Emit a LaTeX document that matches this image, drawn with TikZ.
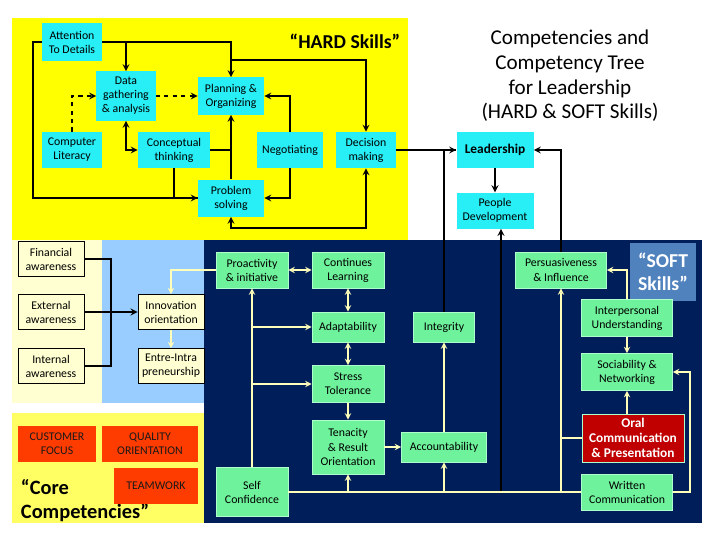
\documentclass[tikz,border=0pt]{standalone}
\usepackage{fontspec}
\setmainfont{Carlito}
\usepackage{xcolor}
\usetikzlibrary{arrows, positioning, calc}

\definecolor{hardbg}{RGB}{255,255,0}
\definecolor{corebg}{RGB}{255,255,100}
\definecolor{creambg}{RGB}{255,255,210}
\definecolor{bluebg}{RGB}{153,204,255}
\definecolor{navybg}{RGB}{0,30,90}
\definecolor{cyanbox}{RGB}{40,238,245}
\definecolor{greenbox}{RGB}{110,242,155}
\definecolor{greenedge}{RGB}{175,255,205}
\definecolor{orangebox}{RGB}{255,60,0}
\definecolor{redbox}{RGB}{192,0,0}
\definecolor{steelbox}{RGB}{80,130,190}
\definecolor{creamline}{RGB}{255,255,185}

\begin{document}
\begin{tikzpicture}[x=0.025cm, y=-0.025cm, font=\fontsize{8.4}{10}\selectfont]
    \tikzstyle{hardbox} = [rectangle, fill=cyanbox, align=center, inner sep=1pt, minimum width=1.5cm, minimum height=0.9cm]
    \tikzstyle{softbox} = [rectangle, fill=greenbox, draw=greenedge, line width=0.6pt, align=center, inner sep=1pt, minimum width=1.8cm, minimum height=0.9cm]
    \tikzstyle{awarebox} = [rectangle, fill=creambg, draw=black, line width=0.6pt, align=center, inner sep=1pt, minimum width=1.65cm, minimum height=0.875cm]
    \tikzstyle{corebox} = [rectangle, fill=orangebox, text=black!90, align=center, inner sep=1pt, minimum height=0.9cm]
    \tikzstyle{line} = [line width=1.2pt]
    \tikzstyle{arrow} = [line width=1.2pt,->,>=stealth]
    \tikzstyle{dblarrow} = [line width=1.2pt,<->,>=stealth]
    \tikzstyle{cline} = [line width=1pt, draw=creamline]
    \tikzstyle{carrow} = [line width=1pt, draw=creamline,->,>=stealth]
    \tikzstyle{cdblarrow} = [line width=1pt, draw=creamline,<->,>=stealth]

    \useasboundingbox (0,0) rectangle (720,540);
    \fill[white] (0,0) rectangle (720,540);

    % background panels
    \fill[hardbg] (12,18) rectangle (408,240);
    \fill[creambg] (12,240) rectangle (102,403);
    \fill[bluebg] (102,240) rectangle (204,403);
    \fill[corebg] (12,413) rectangle (204,523);
    \fill[navybg] (204,240) rectangle (702,523);

    % titles
    \node (title) [align=center, font=\fontsize{15}{17.5}\selectfont] at (570,76) {Competencies and\\Competency Tree\\for Leadership\\(HARD \& SOFT Skills)};
    \node (hardlbl) [font=\fontsize{14}{15}\selectfont\bfseries] at (345,41) {``HARD Skills''};
    \node (corelbl) [anchor=west, align=left, font=\fontsize{14.5}{17}\selectfont\bfseries] at (16,501) {``Core\\Competencies''};
    \node (softlbl) [rectangle, fill=steelbox, text=white, align=center, minimum width=1.65cm, minimum height=1.425cm, font=\fontsize{14}{16.5}\selectfont\bfseries] at (663,272) {``SOFT\\Skills''};

    % HARD skills
    \node (attn) [hardbox, minimum height=0.925cm] at (72,42) {Attention\\To Details};
    \node (data) [hardbox, minimum width=1.475cm, minimum height=1.225cm] at (126,96) {Data\\gathering\\\& analysis};
    \node (plan) [hardbox, minimum width=1.65cm, minimum height=0.925cm] at (231,96) {Planning \&\\Organizing};
    \node (comp) [hardbox] at (72,150) {Computer\\Literacy};
    \node (concept) [hardbox, minimum width=1.8cm] at (174,150) {Conceptual\\thinking};
    \node (nego) [hardbox, minimum width=1.625cm] at (290,150) {Negotiating};
    \node (dec) [hardbox] at (366,150) {Decision\\making};
    \node (prob) [hardbox, minimum width=1.65cm, minimum height=0.925cm] at (231,198) {Problem\\solving};
    \node (lead) [hardbox, minimum width=1.925cm, font=\fontsize{9.5}{10}\selectfont\bfseries] at (495,150) {Leadership};
    \node (pdev) [hardbox, minimum width=1.925cm, below=0.6cm of lead] {People\\Development};
    \coordinate (split) at (231,60);

    % awareness
    \node (fin) [awarebox] at (51,259) {Financial\\awareness};
    \node (ext) [awarebox] at (51,312) {External\\awareness};
    \node (int) [awarebox] at (51,366) {Internal\\awareness};
    \node (innov) [awarebox] at (171,312) {Innovation\\orientation};
    \node (entre) [awarebox] at (171,366) {Entre-Intra\\preneurship};
    \coordinate (join) at ($(ext.east)!0.5!(innov.west)$);

    % core competencies
    \node (cust) [corebox, minimum width=1.95cm] at (57,444) {CUSTOMER\\FOCUS};
    \node (qual) [corebox, minimum width=2.4cm] at (150,444) {QUALITY\\ORIENTATION};
    \node (team) [corebox, minimum width=2.1cm] at (156,486) {TEAMWORK};

    % SOFT skills
    \node (pro) [softbox] at (252,270) {Proactivity\\\& initiative};
    \node (cont) [softbox] at (348,270) {Continues\\Learning};
    \node (adapt) [softbox, minimum height=0.75cm] at (348,327) {Adaptability};
    \node (integ) [softbox, minimum width=1.525cm, minimum height=0.75cm] at (444,327) {Integrity};
    \node (stress) [softbox, minimum height=0.925cm] at (348,384) {Stress\\Tolerance};
    \node (ten) [softbox, minimum height=1.35cm] at (348,447) {Tenacity\\\& Result\\Orientation};
    \node (acc) [softbox, minimum width=2.125cm, minimum height=0.75cm] at (444,447) {Accountability};
    \node (selfc) [softbox, minimum height=1.225cm] at (252,492) {Self\\Confidence};
    \node (persu) [softbox, minimum width=2.275cm] at (561,270) {Persuasiveness\\\& Influence};
    \node (inter) [softbox, minimum width=2.275cm, minimum height=0.925cm] at (627,318) {Interpersonal\\Understanding};
    \node (soc) [softbox, minimum width=2.275cm, minimum height=0.925cm] at (627,372) {Sociability \&\\Networking};
    \node (oral) [softbox, fill=redbox, text=white, minimum width=2.55cm, minimum height=1.2cm, font=\fontsize{9.5}{10.5}\selectfont\bfseries] at (633,438) {Oral\\Communication\\\& Presentation};
    \node (written) [softbox, minimum width=2.275cm] at (627,492) {Written\\Communication};

    % HARD connectors
    \draw [arrow] (attn.east) -| (plan.north);
    \draw [arrow] (attn.east -| data.north) -- (data.north);
    \draw [arrow] (attn.west) -- ++(-9,0) |- (prob.west);
    \draw [line] (concept.south) |- (prob.west);
    \draw [arrow, dashed] (comp.north) |- (data.west);
    \draw [arrow, dashed] (data.east) -- (plan.west);
    \draw [dblarrow] (data.south) |- (concept.west);
    \draw [arrow] (prob.north) -- (plan.south);
    \draw [line] (concept.east) -- (concept.east -| plan.south);
    \draw [arrow] (nego.north) |- (plan.east);
    \draw [arrow] (nego.south) |- (prob.east);
    \draw [arrow] (split) -| (dec.north);
    \draw [dblarrow] (dec.south) -- ++(0,60) -| (prob.south);
    \draw [arrow] (dec.east) -- (lead.west);
    \draw [arrow] (lead.south) -- (pdev.north);
    \draw [arrow] (persu.north) |- (lead.east);
    \draw [line] (integ.north) |- (lead.west);
    \draw [arrow] ([xshift=0.15cm]selfc.east -| pdev.south) -- ([xshift=0.15cm]pdev.south);

    % awareness connectors
    \draw [arrow] (ext.east) -- (innov.west);
    \draw [line] (fin.east) -| (join) |- (int.east);
    \draw [carrow] (pro.west) -| (innov.north);
    \draw [carrow] (innov.south) -- (entre.north);

    % SOFT connectors
    \draw [cdblarrow] (pro.east) -- (cont.west);
    \draw [cdblarrow] (cont.south) -- (adapt.north);
    \draw [cdblarrow] (adapt.south) -- (stress.north);
    \draw [carrow] (stress.south) -- (ten.north);
    \draw [carrow] (ten.east) -- (acc.west);
    \draw [carrow] (acc.north) -- (integ.south);
    \draw [carrow] (selfc.north) -- (pro.south);
    \draw [carrow] (selfc.north |- adapt.west) -- (adapt.west);
    \draw [carrow] (selfc.north |- stress.west) -- (stress.west);
    \draw [cline] (selfc.east) -- (written.west);
    \draw [carrow] (selfc.east -| ten.south) -- (ten.south);
    \draw [carrow] (selfc.east -| acc.south) -- (acc.south);
    \draw [carrow] (selfc.east -| persu.south) -- (persu.south);
    \draw [cline] (oral.west) -- (oral.west -| persu.south);
    \draw [carrow] (written.east) -- ++(17,0) |- (soc.east);
    \draw [carrow] (oral.north -| soc.south) -- (soc.south);
    \draw [carrow] (inter.south) -- (soc.north);
    \draw [carrow] (inter.north) |- (persu.east);
\end{tikzpicture}
\end{document}
